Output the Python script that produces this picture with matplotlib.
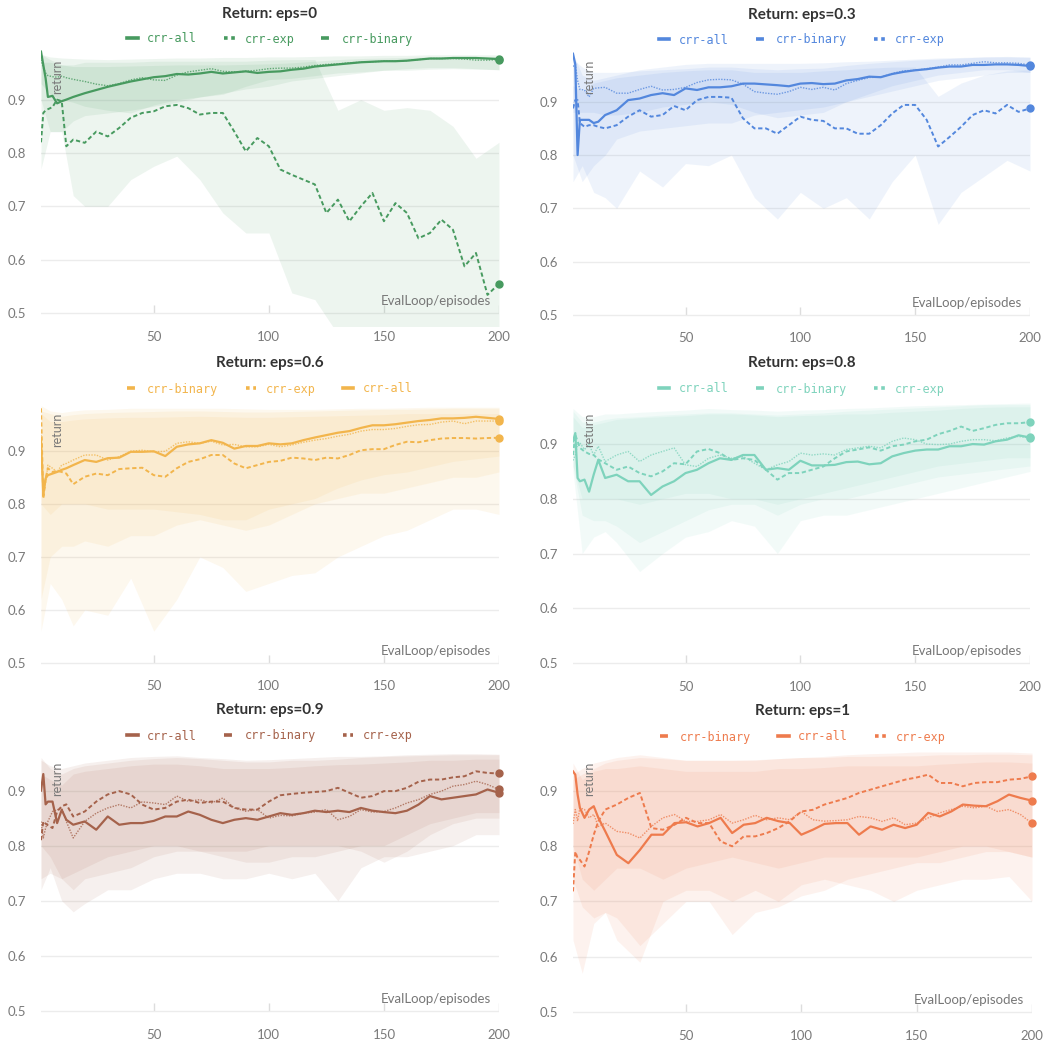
import matplotlib.pyplot as plt
from matplotlib.lines import Line2D
import numpy as np

plt.rcParams['font.family'] = ['Lato', 'DejaVu Sans']

X = [1, 2, 3, 4, 6, 8, 10, 12, 15, 20, 25, 30, 35, 40, 45, 50, 55, 60, 65, 70,
     75, 80, 85, 90, 95, 100, 105, 110, 115, 120, 125, 130, 135, 140, 145, 150,
     155, 160, 165, 170, 175, 180, 185, 190, 195, 200]
# episodes for min/max bands
XB = [1, 5, 10, 15, 20, 30, 40, 50, 60, 70, 80, 90, 100, 110, 120, 130, 140,
      150, 160, 170, 180, 190, 200]

# ---- eps = 0
eps0_all = [0.99, 0.965, 0.94, 0.905, 0.907, 0.893, 0.897, 0.900, 0.905,
            0.912, 0.918, 0.924, 0.929, 0.934, 0.938, 0.942, 0.944, 0.948, 0.947, 0.949,
            0.952, 0.949, 0.951, 0.953, 0.950, 0.952, 0.953, 0.956, 0.958, 0.962, 0.964,
            0.966, 0.968, 0.970, 0.971, 0.972, 0.972, 0.973, 0.975, 0.977, 0.977, 0.978,
            0.978, 0.978, 0.977, 0.976]
eps0_exp = [0.975, 0.96, 0.95, 0.945, 0.943, 0.942, 0.944, 0.941, 0.938,
            0.934, 0.929, 0.926, 0.930, 0.937, 0.941, 0.937, 0.936, 0.946, 0.952, 0.955,
            0.958, 0.953, 0.952, 0.953, 0.955, 0.958, 0.959, 0.959, 0.961, 0.964, 0.966,
            0.967, 0.969, 0.970, 0.971, 0.972, 0.972, 0.973, 0.975, 0.977, 0.977, 0.977,
            0.976, 0.974, 0.974, 0.975]
eps0_binary = [0.82, 0.875, 0.88, 0.882, 0.886, 0.90, 0.897, 0.8125, 0.825,
               0.819, 0.84, 0.831, 0.847, 0.866, 0.875, 0.878, 0.8875, 0.89, 0.884, 0.872,
               0.875, 0.875, 0.84, 0.803, 0.828, 0.8125, 0.769, 0.759, 0.75, 0.741, 0.6875,
               0.7125, 0.672, 0.70, 0.725, 0.672, 0.706, 0.6875, 0.64, 0.65, 0.675, 0.656,
               0.5875, 0.6125, 0.534, 0.555]
eps0_all_lo = [0.90, 0.84, 0.84, 0.86, 0.87, 0.875, 0.88, 0.8875, 0.895, 0.905, 0.912, 0.92,
               0.925, 0.935, 0.94, 0.945, 0.95, 0.955, 0.955, 0.957, 0.958, 0.957, 0.956]
eps0_all_hi = [0.985, 0.975, 0.965, 0.962, 0.962, 0.962, 0.963, 0.964, 0.965, 0.965, 0.965,
               0.966, 0.967, 0.969, 0.972, 0.975, 0.977, 0.978, 0.979, 0.98, 0.981, 0.981, 0.981]
eps0_exp_lo = [0.93, 0.91, 0.90, 0.895, 0.8875, 0.88, 0.875, 0.89, 0.90, 0.905, 0.91, 0.925,
               0.9375, 0.94, 0.945, 0.95, 0.952, 0.955, 0.958, 0.96, 0.96, 0.958, 0.956]
eps0_exp_hi = [0.985, 0.98, 0.978, 0.977, 0.976, 0.975, 0.976, 0.977, 0.978, 0.978, 0.979,
               0.979, 0.98, 0.98, 0.981, 0.982, 0.982, 0.983, 0.983, 0.984, 0.984, 0.984, 0.984]
eps0_binary_lo = [0.77, 0.84, 0.84, 0.72, 0.70, 0.70, 0.75, 0.775, 0.794, 0.75, 0.6875, 0.65,
                  0.65, 0.5375, 0.525, 0.46, 0.46, 0.46, 0.46, 0.46, 0.46, 0.46, 0.46]
eps0_binary_hi = [0.97, 0.97, 0.965, 0.965, 0.97, 0.97, 0.97, 0.972, 0.972, 0.972, 0.972,
                  0.972, 0.974, 0.975, 0.975, 0.88, 0.90, 0.88, 0.885, 0.88, 0.85, 0.79, 0.82]

# ---- eps = 0.3
eps03_all = [0.99, 0.97, 0.80, 0.866, 0.866, 0.866, 0.86, 0.8625, 0.875,
             0.884, 0.903, 0.906, 0.9125, 0.916, 0.9125, 0.925, 0.922, 0.927, 0.927, 0.929,
             0.934, 0.934, 0.9325, 0.931, 0.929, 0.934, 0.935, 0.933, 0.934, 0.94, 0.9425,
             0.947, 0.946, 0.952, 0.956, 0.959, 0.961, 0.964, 0.966, 0.966, 0.969, 0.969,
             0.97, 0.97, 0.969, 0.967]
eps03_exp = [0.966, 0.97, 0.94, 0.923, 0.922, 0.909, 0.925, 0.926, 0.927,
             0.916, 0.916, 0.923, 0.929, 0.922, 0.923, 0.927, 0.936, 0.941, 0.942, 0.941,
             0.933, 0.919, 0.916, 0.914, 0.919, 0.927, 0.923, 0.927, 0.922, 0.934, 0.94,
             0.9455, 0.946, 0.953, 0.958, 0.959, 0.962, 0.965, 0.969, 0.969, 0.972, 0.975,
             0.973, 0.973, 0.972, 0.969]
eps03_binary = [0.8875, 0.903, 0.903, 0.86, 0.853, 0.856, 0.856, 0.853, 0.85,
                0.856, 0.872, 0.884, 0.872, 0.875, 0.892, 0.884, 0.903, 0.909, 0.909, 0.9075,
                0.869, 0.85, 0.85, 0.84, 0.856, 0.872, 0.866, 0.864, 0.85, 0.85, 0.84,
                0.84, 0.856, 0.878, 0.894, 0.894, 0.866, 0.816, 0.834, 0.853, 0.875, 0.884,
                0.878, 0.894, 0.881, 0.8875]
eps03_all_lo = [0.80, 0.75, 0.78, 0.80, 0.83, 0.845, 0.85, 0.855, 0.86, 0.86, 0.875, 0.88,
                0.885, 0.89, 0.90, 0.91, 0.92, 0.93, 0.94, 0.945, 0.95, 0.955, 0.955]
eps03_all_hi = [0.99, 0.95, 0.94, 0.945, 0.95, 0.96, 0.965, 0.97, 0.972, 0.972, 0.972, 0.972,
                0.972, 0.973, 0.975, 0.976, 0.978, 0.98, 0.982, 0.983, 0.984, 0.984, 0.983]
eps03_exp_lo = [0.88, 0.88, 0.88, 0.875, 0.875, 0.88, 0.89, 0.895, 0.90, 0.895, 0.88, 0.87,
                0.875, 0.88, 0.90, 0.915, 0.93, 0.94, 0.95, 0.955, 0.96, 0.96, 0.955]
eps03_exp_hi = [0.98, 0.965, 0.955, 0.955, 0.955, 0.958, 0.96, 0.962, 0.965, 0.965, 0.962,
                0.96, 0.962, 0.963, 0.968, 0.972, 0.975, 0.978, 0.98, 0.982, 0.984, 0.985, 0.984]
eps03_binary_lo = [0.75, 0.78, 0.73, 0.72, 0.70, 0.77, 0.74, 0.784, 0.78, 0.80, 0.72, 0.68,
                   0.73, 0.70, 0.72, 0.68, 0.75, 0.80, 0.67, 0.73, 0.76, 0.79, 0.77]
eps03_binary_hi = [0.93, 0.92, 0.935, 0.94, 0.945, 0.95, 0.955, 0.958, 0.96, 0.96, 0.955,
                   0.955, 0.955, 0.958, 0.96, 0.963, 0.965, 0.965, 0.91, 0.935, 0.95, 0.958, 0.96]

# ---- eps = 0.6
eps06_all = [0.92, 0.817, 0.848, 0.854, 0.857, 0.86, 0.864, 0.867, 0.873,
             0.8825, 0.879, 0.886, 0.887, 0.898, 0.898, 0.899, 0.89, 0.9075, 0.912, 0.914,
             0.92, 0.915, 0.904, 0.909, 0.909, 0.914, 0.912, 0.914, 0.92, 0.925, 0.9295,
             0.934, 0.937, 0.943, 0.948, 0.948, 0.95, 0.953, 0.956, 0.958, 0.961, 0.961,
             0.962, 0.964, 0.962, 0.96]
eps06_exp = [0.93, 0.817, 0.84, 0.873, 0.867, 0.86, 0.873, 0.876, 0.8825,
             0.892, 0.892, 0.8825, 0.889, 0.899, 0.901, 0.898, 0.899, 0.914, 0.917, 0.914,
             0.918, 0.911, 0.912, 0.9075, 0.9075, 0.912, 0.9075, 0.911, 0.916, 0.92, 0.923,
             0.9275, 0.931, 0.937, 0.94, 0.94, 0.942, 0.946, 0.949, 0.9495, 0.954, 0.956,
             0.951, 0.956, 0.956, 0.956]
eps06_binary = [0.98, 0.81, 0.848, 0.867, 0.86, 0.862, 0.86, 0.857, 0.837,
                0.851, 0.857, 0.854, 0.8655, 0.867, 0.868, 0.854, 0.851, 0.867, 0.879, 0.884,
                0.892, 0.892, 0.876, 0.867, 0.873, 0.879, 0.881, 0.887, 0.8855, 0.8825, 0.887,
                0.8855, 0.892, 0.901, 0.903, 0.903, 0.911, 0.917, 0.916, 0.92, 0.923, 0.924,
                0.924, 0.923, 0.924, 0.9245]
eps06_all_lo = [0.80, 0.78, 0.80, 0.80, 0.80, 0.79, 0.79, 0.79, 0.785, 0.78, 0.77, 0.77,
                0.79, 0.80, 0.81, 0.83, 0.845, 0.855, 0.86, 0.87, 0.88, 0.885, 0.89]
eps06_all_hi = [0.985, 0.975, 0.972, 0.975, 0.977, 0.978, 0.98, 0.98, 0.98, 0.98, 0.98, 0.979,
                0.978, 0.978, 0.978, 0.979, 0.98, 0.98, 0.981, 0.982, 0.982, 0.982, 0.982]
eps06_exp_lo = [0.62, 0.70, 0.72, 0.72, 0.73, 0.72, 0.74, 0.74, 0.76, 0.77, 0.76, 0.75,
                0.76, 0.78, 0.80, 0.81, 0.82, 0.82, 0.83, 0.84, 0.85, 0.85, 0.86]
eps06_exp_hi = [0.975, 0.97, 0.965, 0.968, 0.97, 0.972, 0.973, 0.974, 0.975, 0.975, 0.974,
                0.973, 0.973, 0.974, 0.975, 0.976, 0.977, 0.978, 0.978, 0.979, 0.98, 0.98, 0.98]
eps06_binary_lo = [0.56, 0.65, 0.62, 0.57, 0.60, 0.59, 0.66, 0.56, 0.62, 0.70, 0.68, 0.635,
                   0.65, 0.665, 0.67, 0.70, 0.72, 0.74, 0.75, 0.77, 0.79, 0.79, 0.78]
eps06_binary_hi = [0.97, 0.955, 0.955, 0.958, 0.96, 0.962, 0.963, 0.963, 0.964, 0.965, 0.964,
                   0.963, 0.963, 0.964, 0.965, 0.966, 0.967, 0.968, 0.97, 0.97, 0.97, 0.97, 0.97]

# ---- eps = 0.8
eps08_all = [0.905, 0.92, 0.838, 0.832, 0.835, 0.813, 0.844, 0.871, 0.838,
             0.844, 0.832, 0.832, 0.807, 0.8225, 0.832, 0.847, 0.853, 0.865, 0.874, 0.871,
             0.88, 0.88, 0.853, 0.856, 0.853, 0.8695, 0.861, 0.861, 0.862, 0.867, 0.868,
             0.863, 0.865, 0.8775, 0.8835, 0.888, 0.89, 0.89, 0.896, 0.896, 0.90, 0.899,
             0.905, 0.908, 0.916, 0.912]
eps08_binary = [0.88, 0.917, 0.905, 0.893, 0.8865, 0.882, 0.88, 0.872, 0.865,
                0.853, 0.859, 0.847, 0.841, 0.85, 0.865, 0.863, 0.8865, 0.891, 0.8835, 0.871,
                0.874, 0.871, 0.853, 0.835, 0.847, 0.847, 0.853, 0.859, 0.874, 0.8865, 0.89,
                0.894, 0.888, 0.896, 0.899, 0.905, 0.908, 0.918, 0.924, 0.932, 0.924, 0.929,
                0.935, 0.938, 0.938, 0.94]
eps08_exp = [0.87, 0.88, 0.899, 0.902, 0.89, 0.899, 0.88, 0.896, 0.868,
             0.88, 0.8865, 0.868, 0.88, 0.8865, 0.893, 0.862, 0.859, 0.874, 0.88, 0.874,
             0.8775, 0.865, 0.853, 0.862, 0.868, 0.8835, 0.88, 0.882, 0.88, 0.89, 0.893,
             0.896, 0.893, 0.905, 0.911, 0.908, 0.90, 0.899, 0.90, 0.905, 0.908, 0.908,
             0.906, 0.911, 0.914, 0.911]
eps08_all_lo = [0.86, 0.77, 0.76, 0.76, 0.75, 0.72, 0.74, 0.76, 0.78, 0.79, 0.79, 0.77,
                0.79, 0.80, 0.80, 0.81, 0.82, 0.83, 0.84, 0.845, 0.85, 0.855, 0.86]
eps08_all_hi = [0.95, 0.93, 0.935, 0.94, 0.945, 0.948, 0.95, 0.952, 0.955, 0.955, 0.953,
                0.95, 0.952, 0.953, 0.955, 0.955, 0.958, 0.96, 0.962, 0.965, 0.967, 0.968, 0.968]
eps08_exp_lo = [0.86, 0.80, 0.80, 0.80, 0.80, 0.79, 0.80, 0.81, 0.81, 0.80, 0.80, 0.79,
                0.80, 0.81, 0.82, 0.83, 0.84, 0.85, 0.86, 0.865, 0.87, 0.875, 0.875]
eps08_exp_hi = [0.965, 0.95, 0.95, 0.955, 0.955, 0.958, 0.96, 0.962, 0.965, 0.963, 0.962,
                0.96, 0.962, 0.963, 0.965, 0.966, 0.968, 0.97, 0.971, 0.972, 0.973, 0.974, 0.975]
eps08_binary_lo = [0.85, 0.70, 0.73, 0.74, 0.72, 0.667, 0.70, 0.73, 0.74, 0.76, 0.75, 0.70,
                   0.76, 0.77, 0.77, 0.78, 0.79, 0.80, 0.81, 0.82, 0.83, 0.84, 0.85]
eps08_binary_hi = [0.96, 0.94, 0.94, 0.945, 0.948, 0.95, 0.953, 0.955, 0.957, 0.957, 0.955,
                   0.953, 0.955, 0.957, 0.96, 0.962, 0.964, 0.966, 0.968, 0.97, 0.972, 0.972, 0.972]

# ---- eps = 0.9
eps09_all = [0.90, 0.93, 0.875, 0.88, 0.88, 0.841, 0.865, 0.847, 0.838,
             0.844, 0.829, 0.853, 0.838, 0.841, 0.841, 0.845, 0.853, 0.853, 0.862, 0.856,
             0.847, 0.841, 0.847, 0.85, 0.847, 0.853, 0.859, 0.856, 0.859, 0.8635, 0.861,
             0.8635, 0.861, 0.8685, 0.8635, 0.861, 0.859, 0.8635, 0.8745, 0.89, 0.884, 0.887,
             0.89, 0.893, 0.902, 0.896]
eps09_binary = [0.81, 0.844, 0.84, 0.837, 0.832, 0.862, 0.8715, 0.875, 0.853,
                0.862, 0.88, 0.893, 0.899, 0.893, 0.8745, 0.8655, 0.8685, 0.88, 0.8835, 0.8775,
                0.88, 0.88, 0.8685, 0.8655, 0.8655, 0.88, 0.8915, 0.894, 0.896, 0.8975, 0.899,
                0.905, 0.896, 0.887, 0.89, 0.899, 0.899, 0.905, 0.916, 0.92, 0.92, 0.924,
                0.926, 0.935, 0.932, 0.931]
eps09_exp = [0.844, 0.814, 0.832, 0.844, 0.862, 0.865, 0.8685, 0.844, 0.814,
             0.844, 0.859, 0.8685, 0.8745, 0.8685, 0.8795, 0.8775, 0.8745, 0.89, 0.8805, 0.8835,
             0.8775, 0.8865, 0.8685, 0.8625, 0.8655, 0.85, 0.855, 0.854, 0.859, 0.861, 0.8655,
             0.847, 0.853, 0.8655, 0.861, 0.862, 0.8685, 0.8775, 0.8835, 0.893, 0.899, 0.908,
             0.911, 0.917, 0.911, 0.902]
eps09_all_lo = [0.74, 0.75, 0.74, 0.72, 0.74, 0.75, 0.76, 0.78, 0.79, 0.79, 0.78, 0.77,
                0.77, 0.78, 0.78, 0.79, 0.80, 0.80, 0.82, 0.84, 0.85, 0.86, 0.86]
eps09_all_hi = [0.93, 0.92, 0.91, 0.93, 0.935, 0.94, 0.945, 0.948, 0.948, 0.945, 0.94, 0.94,
                0.94, 0.942, 0.945, 0.947, 0.948, 0.95, 0.952, 0.955, 0.955, 0.957, 0.957]
eps09_exp_lo = [0.72, 0.76, 0.70, 0.68, 0.695, 0.72, 0.72, 0.74, 0.75, 0.75, 0.74, 0.74,
                0.75, 0.74, 0.75, 0.70, 0.76, 0.78, 0.78, 0.79, 0.80, 0.82, 0.82]
eps09_exp_hi = [0.96, 0.94, 0.93, 0.94, 0.945, 0.95, 0.955, 0.958, 0.96, 0.958, 0.955, 0.952,
                0.952, 0.955, 0.955, 0.957, 0.96, 0.962, 0.963, 0.964, 0.965, 0.965, 0.965]
eps09_binary_lo = [0.80, 0.78, 0.74, 0.75, 0.76, 0.78, 0.79, 0.80, 0.80, 0.79, 0.79, 0.79,
                   0.80, 0.80, 0.80, 0.80, 0.79, 0.77, 0.79, 0.82, 0.84, 0.85, 0.85]
eps09_binary_hi = [0.955, 0.945, 0.94, 0.945, 0.95, 0.955, 0.96, 0.962, 0.963, 0.96, 0.958,
                   0.955, 0.956, 0.958, 0.96, 0.962, 0.962, 0.963, 0.965, 0.966, 0.967, 0.967, 0.966]

# ---- eps = 1
eps1_all = [0.935, 0.929, 0.893, 0.869, 0.851, 0.866, 0.872, 0.851, 0.8265,
            0.784, 0.769, 0.793, 0.8205, 0.8205, 0.8415, 0.843, 0.8355, 0.8415, 0.851, 0.8235,
            0.8385, 0.8415, 0.851, 0.845, 0.8415, 0.8205, 0.8295, 0.84, 0.8415, 0.8415, 0.8205,
            0.8355, 0.8295, 0.8385, 0.8325, 0.8385, 0.86, 0.8535, 0.8625, 0.875, 0.873, 0.872,
            0.881, 0.893, 0.887, 0.882]
eps1_binary = [0.718, 0.79, 0.778, 0.775, 0.763, 0.79, 0.8205, 0.845, 0.866,
               0.875, 0.887, 0.896, 0.8325, 0.8295, 0.8385, 0.851, 0.8415, 0.8415, 0.8085, 0.7995,
               0.8175, 0.8175, 0.8235, 0.8325, 0.845, 0.8625, 0.8655, 0.875, 0.881, 0.887, 0.896,
               0.902, 0.908, 0.914, 0.92, 0.924, 0.929, 0.914, 0.914, 0.908, 0.914, 0.9155,
               0.9155, 0.92, 0.9215, 0.926]
eps1_exp = [0.84, 0.866, 0.845, 0.869, 0.866, 0.851, 0.857, 0.8355, 0.8415,
            0.8265, 0.8235, 0.8145, 0.8355, 0.851, 0.857, 0.8445, 0.8445, 0.8475, 0.857, 0.8415,
            0.8475, 0.8555, 0.8475, 0.851, 0.8475, 0.8625, 0.8475, 0.845, 0.846, 0.8475, 0.8535,
            0.851, 0.8445, 0.851, 0.8385, 0.8415, 0.851, 0.86, 0.866, 0.872, 0.869, 0.872,
            0.8625, 0.866, 0.857, 0.841]
eps1_all_lo = [0.74, 0.69, 0.67, 0.68, 0.67, 0.62, 0.66, 0.70, 0.70, 0.64, 0.68, 0.69,
               0.71, 0.72, 0.74, 0.75, 0.76, 0.77, 0.77, 0.78, 0.79, 0.79, 0.78]
eps1_all_hi = [0.95, 0.92, 0.935, 0.94, 0.94, 0.945, 0.94, 0.935, 0.935, 0.935, 0.935, 0.94,
               0.94, 0.942, 0.945, 0.945, 0.945, 0.945, 0.948, 0.95, 0.952, 0.952, 0.95]
eps1_exp_lo = [0.80, 0.74, 0.72, 0.74, 0.76, 0.76, 0.74, 0.76, 0.77, 0.78, 0.77, 0.76,
               0.77, 0.78, 0.78, 0.78, 0.78, 0.78, 0.79, 0.80, 0.80, 0.79, 0.78]
eps1_exp_hi = [0.92, 0.93, 0.94, 0.95, 0.955, 0.96, 0.958, 0.955, 0.955, 0.955, 0.956, 0.958,
               0.96, 0.96, 0.962, 0.962, 0.963, 0.963, 0.965, 0.965, 0.966, 0.966, 0.965]
eps1_binary_lo = [0.63, 0.57, 0.66, 0.68, 0.63, 0.59, 0.70, 0.72, 0.72, 0.70, 0.72, 0.70,
                  0.73, 0.74, 0.73, 0.72, 0.70, 0.72, 0.73, 0.74, 0.74, 0.745, 0.70]
eps1_binary_hi = [0.93, 0.94, 0.95, 0.955, 0.96, 0.965, 0.96, 0.955, 0.955, 0.955, 0.955,
                  0.958, 0.96, 0.962, 0.965, 0.967, 0.968, 0.97, 0.97, 0.97, 0.97, 0.97, 0.968]

W, H = 1049, 1042
fig = plt.figure(figsize=(W / 100, H / 100), dpi=100)

styles = {
    'crr-all': dict(ls='-', lw=1.6, alpha=1.0),
    'crr-binary': dict(ls=(0, (2.2, 1.4)), lw=1.4, alpha=1.0),
    'crr-exp': dict(ls=(0, (1, 1)), lw=1.0, alpha=0.8),
}

# (title, colour, legend order, series, layout in pixels: left, right, top, y=0.5, ymax)
panels = [
    ('Return: eps=0', '#479A5F', ['crr-all', 'crr-exp', 'crr-binary'],
     {'crr-all': (eps0_all, eps0_all_lo, eps0_all_hi),
      'crr-exp': (eps0_exp, eps0_exp_lo, eps0_exp_hi),
      'crr-binary': (eps0_binary, eps0_binary_lo, eps0_binary_hi)},
     (41, 499, 50, 313, 0.993), (14, 39)),
    ('Return: eps=0.3', '#5387DD', ['crr-all', 'crr-binary', 'crr-exp'],
     {'crr-all': (eps03_all, eps03_all_lo, eps03_all_hi),
      'crr-exp': (eps03_exp, eps03_exp_lo, eps03_exp_hi),
      'crr-binary': (eps03_binary, eps03_binary_lo, eps03_binary_hi)},
     (573, 1030, 50, 315, 0.997), (15, 40)),
    ('Return: eps=0.6', '#F2B54C', ['crr-binary', 'crr-exp', 'crr-all'],
     {'crr-all': (eps06_all, eps06_all_lo, eps06_all_hi),
      'crr-exp': (eps06_exp, eps06_exp_lo, eps06_exp_hi),
      'crr-binary': (eps06_binary, eps06_binary_lo, eps06_binary_hi)},
     (41, 499, 403, 663, 0.99), (363, 389)),
    ('Return: eps=0.8', '#7ED3BC', ['crr-all', 'crr-binary', 'crr-exp'],
     {'crr-all': (eps08_all, eps08_all_lo, eps08_all_hi),
      'crr-exp': (eps08_exp, eps08_exp_lo, eps08_exp_hi),
      'crr-binary': (eps08_binary, eps08_binary_lo, eps08_binary_hi)},
     (573, 1030, 403, 663, 0.975), (363, 389)),
    ('Return: eps=0.9', '#A5624B', ['crr-all', 'crr-binary', 'crr-exp'],
     {'crr-all': (eps09_all, eps09_all_lo, eps09_all_hi),
      'crr-exp': (eps09_exp, eps09_exp_lo, eps09_exp_hi),
      'crr-binary': (eps09_binary, eps09_binary_lo, eps09_binary_hi)},
     (41, 499, 752, 1011, 0.97), (710, 736)),
    ('Return: eps=1', '#EE7B4D', ['crr-binary', 'crr-all', 'crr-exp'],
     {'crr-all': (eps1_all, eps1_all_lo, eps1_all_hi),
      'crr-exp': (eps1_exp, eps1_exp_lo, eps1_exp_hi),
      'crr-binary': (eps1_binary, eps1_binary_lo, eps1_binary_hi)},
     (573, 1032, 752, 1012, 0.97), (711, 737)),
]

YLO = 0.475
for title, col, order, series, (L, R, T, P05, yhi), (ty, ly) in panels:
    k = (P05 - T) / (yhi - 0.5)          # pixels per unit of return
    B = P05 + (0.5 - YLO) * k
    ax = fig.add_axes([L / W, 1 - B / H, (R - L) / W, (B - T) / H])
    ax.set_xlim(1, 200)
    ax.set_ylim(YLO, yhi)

    for name in ['crr-binary', 'crr-exp', 'crr-all']:
        ax.fill_between(XB, series[name][1], series[name][2], color=col,
                        alpha=0.095, lw=0, zorder=1)
    for name in ['crr-exp', 'crr-binary', 'crr-all']:
        st = styles[name]
        ax.plot(X, series[name][0], color=col, ls=st['ls'], lw=st['lw'],
                alpha=st['alpha'], zorder=3)
        ax.plot(X[-1], series[name][0][-1], 'o', color=col, ms=5,
                clip_on=False, zorder=4)

    for s in ax.spines.values():
        s.set_visible(False)
    ax.set_yticks([0.5, 0.6, 0.7, 0.8, 0.9])
    ax.set_yticklabels(['0.5', '0.6', '0.7', '0.8', '0.9'])
    ax.set_xticks([50, 100, 150, 200])
    ax.tick_params(axis='both', length=0, colors='#7a7a7a', labelsize=9.5)
    ax.tick_params(axis='y', pad=11)
    ax.tick_params(axis='x', pad=3)
    ax.grid(axis='y', color='#ececec', lw=1)
    ax.grid(axis='x', visible=False)
    ax.set_axisbelow(True)
    ax.vlines([50, 100, 150, 200], 0.5, 0.5 + 8 / k, color='#dddddd', lw=1, zorder=0)

    ax.text(0.035, 0.965, 'return', rotation=90, transform=ax.transAxes,
            ha='center', va='top', fontsize=9, color='#777777')
    ax.annotate('EvalLoop/episodes', xy=(200, 0.5), xytext=(-6, 4),
                textcoords='offset points', ha='right', va='bottom',
                fontsize=9.5, color='#777777')

    cx = (L + R) / 2 / W
    fig.text(cx, 1 - ty / H, title, ha='center', va='center', fontsize=11,
             fontweight='bold', color='#333333')
    handles = [Line2D([], [], color=col, lw=2.6, ls=styles[n]['ls']) for n in order]
    leg = fig.legend(handles, order, loc='center', bbox_to_anchor=(cx, 1 - ly / H),
                     ncol=3, frameon=False, handlelength=0.9, handletextpad=0.8,
                     columnspacing=2.3, prop={'family': 'DejaVu Sans Mono', 'size': 8.5})
    for t in leg.get_texts():
        t.set_color(col)

plt.savefig('out.png', dpi=100)
